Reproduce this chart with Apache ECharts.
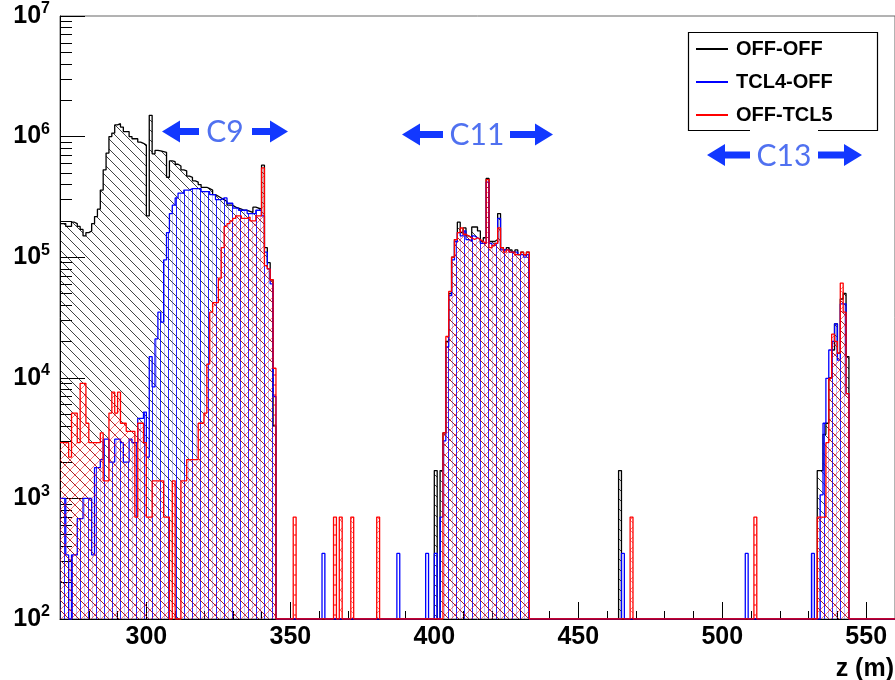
<!DOCTYPE html>
<html>
<head>
<meta charset="utf-8">
<script src="https://cdn.jsdelivr.net/npm/echarts@6.0.0/dist/echarts.min.js"></script>
<style>
html,body{margin:0;padding:0;background:#fff;}
#chart{width:895px;height:680px;}
</style>
</head>
<body>
<div id="chart"></div>
<script>
// ---------------- data (1 m bins, z in metres) ----------------
const BIN_FIRST = 270;   // lower edge of first bin
const BIN_LAST = 560;    // upper edge of last bin
const Y_FLOOR = 100;     // axis minimum; empty bins sit on it

const seriesNames = ['OFF-OFF', 'TCL4-OFF', 'OFF-TCL5'];

const C9_START = 270, C11_START = 403, C13_START = 531;

// OFF-OFF
const offOffC9 = [
  190000,190000,180000,180000,195000,190000,180000,170000,150000,160000,
  165000,190000,217000,250000,360000,530000,730000,1000000,1070000,1250000,
  1280000,1200000,1100000,1100000,1000000,960000,960000,900000,880000,850000,
  220000,1500000,720000,770000,760000,750000,740000,460000,630000,620000,
  590000,570000,530000,520000,470000,460000,430000,420000,400000,380000,
  380000,370000,360000,330000,320000,310000,300000,290000,270000,270000,
  260000,255000,250000,245000,245000,240000,235000,260000,255000,250000,
  580000,120000,90000,65000,4000];
const offOffC11 = [3500,20000,50000,100000,140000,195000,160000,175000,150000,145000,
  178000,178000,165000,135000,145000,450000,135000,135000,140000,230000,
  120000,115000,120000,115000,110000,115000,105000,110000,105000,110000];
const offOffC13 = [0,0,1700,1700,3400,4200,10000,17000,28000,16000,45000,50000,15000];
const offOffSingles = [[400,1700],[402,1700],[464,1700]];

// TCL4-OFF
const tcl4OffC9 = [
  1000,1000,340,0,340,340,680,680,1000,1000,
  1000,340,1800,1800,2100,3100,3100,2000,2000,3100,
  3100,2900,2000,2000,3100,2900,2900,4600,4600,5200,
  2200,15000,8400,21000,35000,29000,95000,160000,230000,270000,
  310000,340000,340000,360000,360000,370000,370000,370000,370000,350000,
  350000,350000,330000,330000,300000,300000,310000,310000,280000,280000,
  255000,255000,245000,245000,245000,230000,230000,230000,245000,245000,
  220000,110000,80000,60000,7000];
const tcl4OffC11 = [3000,18000,48000,95000,135000,160000,150000,165000,140000,135000,
  150000,145000,140000,130000,130000,420000,130000,125000,130000,210000,
  115000,115000,115000,110000,110000,110000,105000,105000,100000,105000];
const tcl4OffC13 = [350,0,0,1070,4200,9900,17000,20000,28000,14000,41000,41000,7400];
const tcl4OffSingles = [[361,350],[387,350],[397,350],[400,350],[402,700],[465,350],[508,350]];

// OFF-TCL5
const offTcl5C9 = [
  2900,2900,2900,2200,5100,5100,2900,9000,9000,4200,
  2900,2900,2900,2900,3500,1400,1400,5100,7600,5100,
  7600,4200,4200,3600,3600,3600,700,4200,4200,2900,
  700,700,1400,1400,1400,1400,700,700,0,1400,
  0,0,1400,1400,2100,2100,2100,2100,4200,4200,
  5100,13000,35000,42000,42000,67000,120000,180000,190000,200000,
  210000,220000,220000,210000,210000,215000,200000,200000,220000,220000,
  550000,85000,80000,65000,12000];
const offTcl5C11 = [3500,22000,52000,100000,140000,160000,175000,155000,150000,145000,
  140000,145000,140000,135000,130000,440000,120000,125000,130000,175000,
  120000,110000,115000,110000,110000,105000,105000,110000,105000,110000];
const offTcl5C13 = [0,0,700,700,700,2900,9900,23000,20000,16000,61000,35000,7400];
const offTcl5Singles = [[351,700],[365,700],[367,700],[371,700],[380,700],[468,700],[511,700]];

// axis ticks / labels
const xMajorTicks = [300,350,400,450,500,550];
const xMinorTicks = [280,290,310,320,330,340,360,370,380,390,410,420,430,440,460,470,480,490,510,520,530,540];
const yDecades = [1e2,1e3,1e4,1e5,1e6,1e7];
const yMinorMultipliers = [2,3,4,5,6,7,8,9];

// ---------------- build ----------------
function binArray(blocks, singles) {
  const arr = new Array(BIN_LAST - BIN_FIRST).fill(0);
  blocks.forEach(([start, vals]) => vals.forEach((v, i) => { arr[start - BIN_FIRST + i] = v; }));
  singles.forEach(([z, v]) => { arr[z - BIN_FIRST] = v; });
  return arr;
}
function stepData(arr) {
  const pts = arr.map((v, i) => [BIN_FIRST + i, Math.max(v, Y_FLOOR)]);
  pts.push([BIN_LAST, Math.max(arr[arr.length - 1], Y_FLOOR)]);
  return pts;
}
const histos = [
  binArray([[C9_START, offOffC9], [C11_START, offOffC11], [C13_START, offOffC13]], offOffSingles),
  binArray([[C9_START, tcl4OffC9], [C11_START, tcl4OffC11], [C13_START, tcl4OffC13]], tcl4OffSingles),
  binArray([[C9_START, offTcl5C9], [C11_START, offTcl5C11], [C13_START, offTcl5C13]], offTcl5Singles)
];
const yMinorTicks = [];
yDecades.slice(0, -1).forEach(d => yMinorMultipliers.forEach(m => yMinorTicks.push(d * m)));

function makeTile(size, draw) {
  const c = document.createElement('canvas');
  c.width = size; c.height = size;
  draw(c.getContext('2d'), size);
  return c;
}
const tileBlack = makeTile(10, (g, s) => {
  g.strokeStyle = 'rgba(20,20,20,0.8)'; g.lineWidth = 1;
  g.beginPath();
  for (let k = -1; k <= 1; k++) { g.moveTo(k * s, 0); g.lineTo(k * s + s, s); }
  g.stroke();
});
const tileBlue = makeTile(8, (g, s) => {
  g.fillStyle = 'rgba(0,0,255,0.85)'; g.fillRect(0, 0, 1, s);
  g.fillStyle = 'rgba(70,70,255,0.35)'; g.fillRect(4, 0, 1, s);
});
const tileRed = makeTile(10, (g, s) => {
  g.strokeStyle = 'rgba(255,0,0,0.6)'; g.lineWidth = 0.9;
  g.beginPath();
  for (let k = -1; k <= 1; k++) {
    g.moveTo(k * s, 0); g.lineTo(k * s + s, s);
    g.moveTo(k * s, s); g.lineTo(k * s + s, 0);
  }
  g.stroke();
});
const tiles = [tileBlack, tileBlue, tileRed];
const lineColors = ['#000000', '#0000ff', '#ff0000'];

const FONT = '"Liberation Sans", Arial, Helvetica, sans-serif';
const ARROW = '#1238ff';
const CTEXT = '#5071f0';

function arrow(tipX, tailX, cy) {
  const d = tailX > tipX ? 1 : -1;
  const hx = tipX + d * 18;
  return {
    type: 'polygon', z: 20, silent: true,
    shape: { points: [[tipX, cy], [hx, cy - 11], [hx, cy - 3.5], [tailX, cy - 3.5], [tailX, cy + 3.5], [hx, cy + 3.5], [hx, cy + 11]] },
    style: { fill: ARROW }
  };
}
function cLabel(text, x, y) {
  return { type: 'text', z: 21, silent: true, x: x, y: y,
    style: { text: text, fill: CTEXT, font: '30px Lato, "Open Sans", sans-serif', align: 'center', verticalAlign: 'middle' } };
}

const chart = echarts.init(document.getElementById('chart'), null, { renderer: 'canvas' });
chart.setOption({
  animation: false,
  backgroundColor: '#ffffff',
  grid: { left: 60, right: -2, top: 16, bottom: 61, show: true, borderColor: '#666', borderWidth: 1, backgroundColor: 'transparent' },
  legend: {
    orient: 'vertical', left: 696, top: 39, padding: 0,
    itemWidth: 32, itemHeight: 2, itemGap: 13, icon: 'rect', selectedMode: false,
    textStyle: { fontFamily: FONT, fontSize: 20, fontWeight: 'bold', color: '#000', lineHeight: 20, padding: [0, 0, 0, 3] },
    data: seriesNames.map((n, i) => ({ name: n, itemStyle: { color: lineColors[i] } }))
  },
  xAxis: [
    { type: 'value', min: BIN_FIRST, max: BIN_LAST, position: 'bottom',
      axisLine: { show: true, lineStyle: { color: '#000', width: 1 } },
      axisTick: { show: true, inside: true, length: 17, customValues: xMajorTicks, lineStyle: { color: '#000' } },
      axisLabel: { customValues: xMajorTicks, margin: 6, fontFamily: FONT, fontSize: 25, fontWeight: 'bold', color: '#000' },
      splitLine: { show: false } },
    { type: 'value', min: BIN_FIRST, max: BIN_LAST, position: 'bottom',
      axisLine: { show: false },
      axisTick: { show: true, inside: true, length: 8, customValues: xMinorTicks, lineStyle: { color: '#000' } },
      axisLabel: { show: false }, splitLine: { show: false } }
  ],
  yAxis: [
    { type: 'log', logBase: 10, min: 1e2, max: 1e7, position: 'left',
      axisLine: { show: true, lineStyle: { color: '#000', width: 1 } },
      axisTick: { show: true, inside: true, length: 25, customValues: yDecades, lineStyle: { color: '#000' } },
      axisLabel: { customValues: yDecades, margin: 10,
        formatter: v => '{b|10}{s|' + Math.round(Math.log10(v)) + '}',
        rich: {
          b: { fontFamily: FONT, fontSize: 25, fontWeight: 'bold', color: '#000', lineHeight: 30 },
          s: { fontFamily: FONT, fontSize: 16, fontWeight: 'bold', color: '#000', verticalAlign: 'top' }
        } },
      splitLine: { show: false } },
    { type: 'log', logBase: 10, min: 1e2, max: 1e7, position: 'left',
      axisLine: { show: false },
      axisTick: { show: true, inside: true, length: 12, customValues: yMinorTicks, lineStyle: { color: '#000' } },
      axisLabel: { show: false }, splitLine: { show: false } }
  ],
  series: seriesNames.map((name, i) => ({
    name: name, type: 'line', step: 'end', xAxisIndex: 0, yAxisIndex: 0,
    data: stepData(histos[i]), symbol: 'none', showSymbol: false, silent: true, z: 2 + i,
    lineStyle: { color: lineColors[i], width: 1.3 },
    itemStyle: { color: lineColors[i] },
    areaStyle: { color: { image: tiles[i], repeat: 'repeat' }, origin: 'start', opacity: 1 }
  })),
  graphic: [
    { type: 'rect', z: 15, silent: true, shape: { x: 688.5, y: 32.5, width: 189, height: 98 },
      style: { fill: 'none', stroke: '#000', lineWidth: 1.2 } },
    { type: 'rect', z: 16, silent: true, shape: { x: 750, y: 127, width: 68, height: 8 }, style: { fill: '#fff' } },
    arrow(162, 199, 131.5), cLabel('C9', 225, 132), arrow(288, 252, 131.5),
    arrow(402, 443, 134.5), cLabel('C11', 477, 135), arrow(553, 510, 134.5),
    arrow(707, 750, 155), cLabel('C13', 784, 156), arrow(862, 818, 155),
    { type: 'text', z: 21, silent: true, x: 894, y: 669,
      style: { text: 'z (m)', fill: '#000', font: 'bold 25px "Liberation Sans", Arial, sans-serif', align: 'right', verticalAlign: 'middle' } }
  ]
});
</script>
</body>
</html>
